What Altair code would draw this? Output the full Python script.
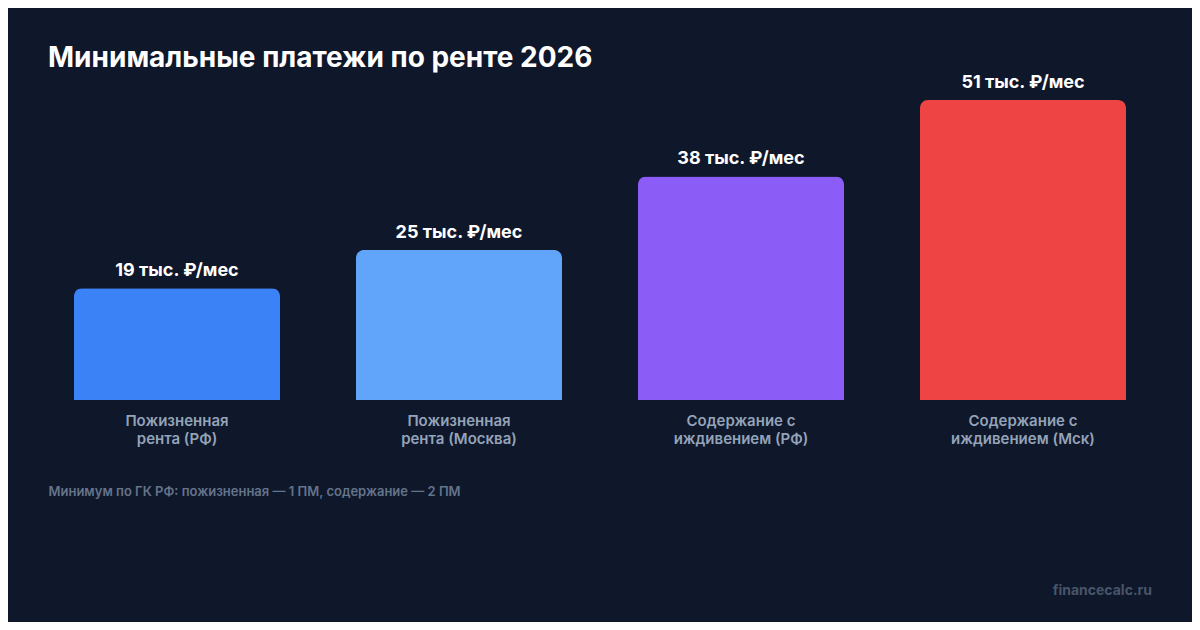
import altair as alt
import pandas as pd

categories = [
    "Пожизненная|рента (РФ)",
    "Пожизненная|рента (Москва)",
    "Содержание с|иждивением (РФ)",
    "Содержание с|иждивением (Мск)",
]
values = [19, 25.5, 38, 51]
value_labels = ["19 тыс. ₽/мес", "25 тыс. ₽/мес", "38 тыс. ₽/мес", "51 тыс. ₽/мес"]
title_text = "Минимальные платежи по ренте 2026"
footnote = "Минимум по ГК РФ: пожизненная — 1 ПМ, содержание — 2 ПМ"
watermark = "financecalc.ru"

colors = ["#3b82f6", "#60a5fa", "#8b5cf6", "#ef4444"]
FONT = "Inter"

df = pd.DataFrame({"cat": categories, "val": values, "lbl": value_labels})

x_enc = alt.X(
    "cat:N",
    sort=categories,
    scale=alt.Scale(paddingInner=0.2695, paddingOuter=0),
    axis=alt.Axis(
        title=footnote,
        domain=False,
        ticks=False,
        grid=False,
        labelAngle=0,
        labelExpr="split(datum.label, '|')",
        labelBaseline="top",
        labelPadding=13,
        labelLineHeight=18.5,
        labelFont=FONT,
        labelFontSize=15,
        labelFontWeight=600,
        labelColor="#94a3b8",
        titleX=-26,
        titleY=95,
        titleAlign="left",
        titleAnchor="start",
        titleBaseline="alphabetic",
        titleFont=FONT,
        titleFontSize=13,
        titleFontWeight=600,
        titleColor="#64748b",
    ),
)
y_enc = alt.Y("val:Q", scale=alt.Scale(domain=[0, 51], nice=False, zero=True), axis=None)

bars = alt.Chart(df).mark_bar(
    cornerRadiusTopLeft=8, cornerRadiusTopRight=8
).encode(
    x=x_enc,
    y=y_enc,
    color=alt.Color("cat:N", scale=alt.Scale(domain=categories, range=colors), legend=None),
)

labels = alt.Chart(df).mark_text(
    dy=-12, baseline="alphabetic", align="center",
    font=FONT, fontSize=18, fontWeight=700, color="#ffffff",
).encode(x=alt.X("cat:N", sort=categories), y=alt.Y("val:Q"), text="lbl:N")

wm = alt.Chart(pd.DataFrame({"t": [watermark]})).mark_text(
    align="right", baseline="alphabetic",
    font=FONT, fontSize=14, fontWeight=700, color="#475569",
).encode(x=alt.value(1078), y=alt.value(495), text="t:N")

chart = alt.layer(bars, labels, wm).properties(
    width=1052,
    height=300,
    padding={"left": 66, "top": 92, "right": 66, "bottom": 222},
    autosize=alt.AutoSizeParams(type="none"),
    background="#0f172a",
    title=alt.Title(
        title_text,
        anchor="start",
        dy=55,
        offset=34,
        baseline="alphabetic",
        font=FONT,
        fontSize=28,
        fontWeight=700,
        color="#ffffff",
    ),
).configure_view(stroke=None)

chart.save("out.html", embed_options={"renderer": "svg", "actions": False})
